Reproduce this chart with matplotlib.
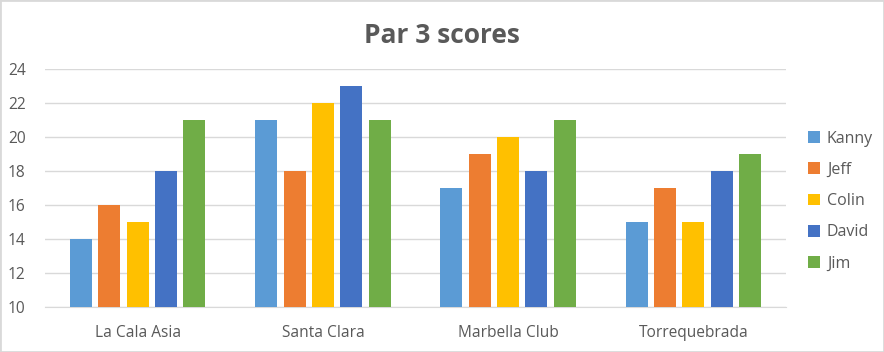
import matplotlib.pyplot as plt
import numpy as np

plt.rcParams['font.family'] = ['Open Sans', 'DejaVu Sans']

courses = ['La Cala Asia', 'Santa Clara', 'Marbella Club', 'Torrequebrada']
players = ['Kanny', 'Jeff', 'Colin', 'David', 'Jim']
kanny = [14, 21, 17, 15]
jeff = [16, 18, 19, 17]
colin = [15, 22, 20, 15]
david = [18, 23, 18, 18]
jim = [21, 21, 21, 19]
colors = ['#5B9BD5', '#ED7D31', '#FFC000', '#4472C4', '#70AD47']

fig = plt.figure(figsize=(8.84, 3.52), dpi=100)
ax = fig.add_axes([45 / 884, 45 / 352, 741 / 884, 238 / 352])

x = np.arange(len(courses))
step = 0.153
width = 0.119
for i, (name, vals) in enumerate(zip(players, [kanny, jeff, colin, david, jim])):
    ax.bar(x + (i - 2) * step, vals, width, color=colors[i], label=name, zorder=3)

ax.set_xlim(-0.5, len(courses) - 0.5)
ax.set_ylim(10, 24)
ax.set_yticks(range(10, 25, 2))
ax.set_xticks(x)
ax.set_xticklabels(courses)
ax.grid(axis='y', color='#D9D9D9', linewidth=1, zorder=0)
for s in ['top', 'right', 'left']:
    ax.spines[s].set_visible(False)
ax.spines['bottom'].set_color('#D9D9D9')
ax.tick_params(axis='both', length=0, labelsize=11.2, colors='#595959')
ax.tick_params(axis='x', pad=13)
ax.tick_params(axis='y', pad=14)

fig.text(0.5, 0.9, 'Par 3 scores', ha='center', va='center', fontsize=19,
         fontweight='bold', color='#595959')

leg = ax.legend(loc='center left', bbox_to_anchor=(1.01, 0.445), frameon=False,
                fontsize=11.5, handlelength=0.75, handleheight=0.75,
                labelspacing=0.95, handletextpad=0.45)
for t in leg.get_texts():
    t.set_color('#595959')

fig.patches.append(plt.Rectangle((0, 0), 1, 1, transform=fig.transFigure,
                                 fill=False, edgecolor='#D9D9D9', linewidth=2))

fig.savefig('out.png', dpi=100)
